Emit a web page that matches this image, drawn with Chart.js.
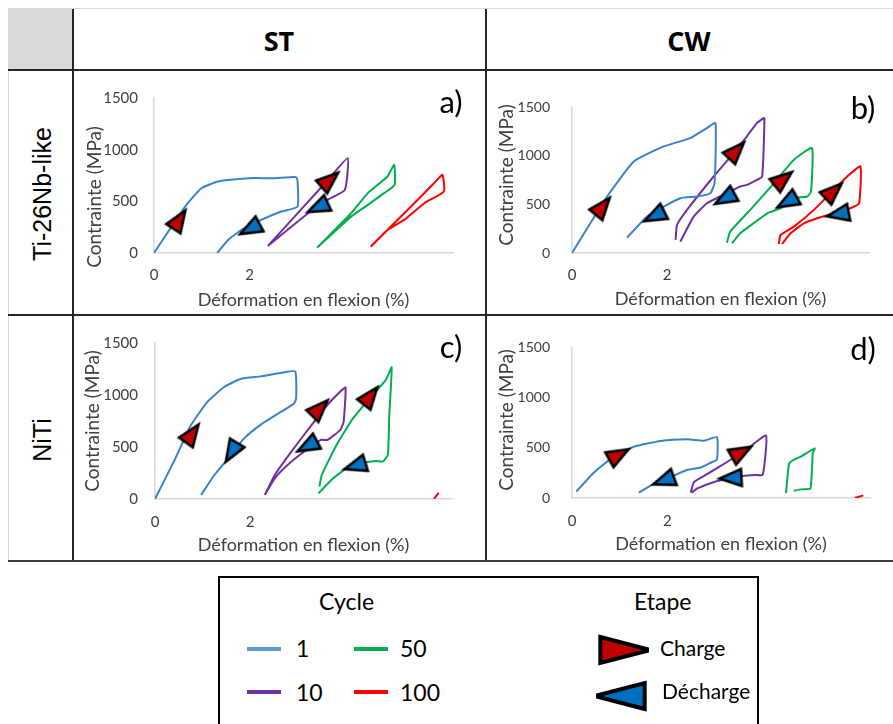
<!DOCTYPE html>
<html>
<head>
<meta charset="utf-8">
<script src="https://cdn.jsdelivr.net/npm/chart.js@4"></script>
<style>
  body { margin: 0; width: 893px; height: 724px; position: relative; overflow: hidden; background: #fff; font-family: Lato, sans-serif; color: #000; }
  .abs { position: absolute; }
  .line { position: absolute; background: #262626; }
  .head { position: absolute; font-family: "Open Sans", sans-serif; font-weight: 700; font-size: 27px; transform: translate(-50%, -50%); }
  .rowlab { position: absolute; font-family: "Liberation Sans", Arial, sans-serif; font-size: 25px; transform: translate(-50%, -50%) rotate(-90deg); white-space: nowrap; }
  .letter { position: absolute; font-family: Lato, sans-serif; font-size: 31px; transform: translate(-50%, -50%); }
  .lg { position: absolute; font-family: Lato, sans-serif; font-size: 23px; transform: translateY(-50%); white-space: nowrap; }
  .swatch { position: absolute; width: 34px; height: 4px; }
</style>
</head>
<body>
<!-- table frame -->
<div class="line" style="left:8px;top:8px;width:885px;height:1px;background:#d9d9d9"></div>
<div class="line" style="left:8px;top:8px;width:1px;height:554px;background:#d9d9d9"></div>
<div class="abs" style="left:9px;top:9px;width:63px;height:60px;background:#d9d9d9"></div>
<div class="line" style="left:72px;top:9px;width:2px;height:553px"></div>
<div class="line" style="left:485px;top:9px;width:2px;height:553px"></div>
<div class="line" style="left:8px;top:69px;width:885px;height:2px"></div>
<div class="line" style="left:8px;top:314px;width:885px;height:2px"></div>
<div class="line" style="left:8px;top:560px;width:885px;height:2px;background:#3a3a3a"></div>

<div class="head" style="left:279px;top:40px">ST</div>
<div class="head" style="left:689px;top:40px">CW</div>
<div class="rowlab" style="left:42px;top:194px">Ti-26Nb-like</div>
<div class="rowlab" style="left:42px;top:440px">NiTi</div>

<div class="abs" style="left:76px;top:72px"><canvas id="chartA" width="408" height="241"></canvas></div>
<div class="abs" style="left:488px;top:72px"><canvas id="chartB" width="404" height="241"></canvas></div>
<div class="abs" style="left:76px;top:317px"><canvas id="chartC" width="408" height="242"></canvas></div>
<div class="abs" style="left:488px;top:317px"><canvas id="chartD" width="404" height="242"></canvas></div>

<div class="letter" style="left:451px;top:101px">a)</div>
<div class="letter" style="left:863px;top:107px">b)</div>
<div class="letter" style="left:451px;top:346px">c)</div>
<div class="letter" style="left:863px;top:348px">d)</div>

<!-- legend -->
<div class="abs" style="left:218px;top:576px;width:537px;height:160px;border:2px solid #000"></div>
<div class="lg" style="left:319px;top:601px">Cycle</div>
<div class="lg" style="left:634px;top:601px">Etape</div>
<div class="swatch" style="left:247px;top:647px;background:#5b9bd5"></div>
<div class="lg" style="left:296px;top:648px">1</div>
<div class="swatch" style="left:354px;top:647px;background:#00b050"></div>
<div class="lg" style="left:400px;top:648px">50</div>
<div class="swatch" style="left:247px;top:690px;background:#7030a0"></div>
<div class="lg" style="left:296px;top:692px">10</div>
<div class="swatch" style="left:354px;top:690px;background:#ff0000"></div>
<div class="lg" style="left:400px;top:692px">100</div>
<canvas id="legCharge" class="abs" style="left:585px;top:622px" width="64" height="56"></canvas>
<div class="lg" style="left:660px;top:647px;font-size:21px">Charge</div>
<canvas id="legDecharge" class="abs" style="left:596px;top:668px" width="64" height="56"></canvas>
<div class="lg" style="left:662px;top:690px;font-size:21px">Décharge</div>

<script>
// cycle legend names and colours
const cycleNames = ['1', '10', '50', '100'];
const cycleColors = ['#3a82cc', '#7030a0', '#00b050', '#ff0000'];
const yTicks = [0, 500, 1000, 1500];
const xTickLabels = [0, 2];

// a) Ti-26Nb-like ST  [deformation %, contrainte MPa]
const a1 = [[0,0],[0.65,449],[0.99,627],[1.34,692],[1.97,724],[2.52,724],[2.97,734],[3.0,700],[3.0,449],[2.66,401],[2.24,320],[1.83,223],[1.55,126],[1.32,0]];
const a10 = [[2.38,68],[3.08,424],[3.63,704],[4.05,918],[3.99,611],[3.63,514],[3.22,385],[2.38,68]];
const a50 = [[3.41,52],[4.12,385],[4.47,579],[4.88,740],[5.02,853],[5.03,660],[4.81,579],[4.47,466],[4.12,352],[3.41,52]];
const a100 = [[4.53,61],[5.02,288],[5.58,546],[5.92,708],[6.03,757],[6.06,595],[5.65,482],[5.23,320],[4.88,223],[4.53,61]];
const aCharge = [[0.49,294],[3.62,685]];
const aChargeRot = [-57, -41];
const aDecharge = [[2.07,249],[3.49,456]];
const aDechargeRot = [152, 155];

// b) Ti-26Nb-like CW
const b1 = [[0,0],[0.74,580],[1.30,940],[1.93,1095],[2.49,1181],[2.84,1284],[3.02,1335],[3.00,717],[2.91,614],[2.63,580],[2.28,563],[1.93,477],[1.58,374],[1.16,158]];
const b10 = [[2.18,134],[2.21,288],[2.42,443],[2.98,786],[3.40,1026],[3.68,1198],[3.89,1335],[4.04,1387],[4.05,1370],[4.00,786],[3.82,734],[3.68,700],[3.54,683],[3.26,614],[2.84,511],[2.56,374],[2.28,117]];
const b50 = [[3.26,106],[3.33,220],[3.75,443],[4.25,717],[4.67,958],[5.05,1078],[5.03,632],[4.95,580],[4.67,563],[4.39,460],[4.11,408],[3.82,305],[3.54,202],[3.37,100]];
const b100 = [[4.35,93],[4.39,185],[4.67,271],[5.09,443],[5.51,649],[5.79,786],[6.07,889],[6.04,511],[5.86,460],[5.51,408],[5.16,357],[4.88,305],[4.60,202],[4.42,93]];
const bCharge = [[0.60,450],[3.41,1026],[4.39,738],[5.45,611]];
const bChargeRot = [-51, -47, -39, -43];
const bDecharge = [[1.80,395],[3.28,577],[4.59,542],[5.67,405]];
const bDechargeRot = [153, 151, 151, 169];

// c) NiTi ST
const c1 = [[0,0],[0.42,382],[0.76,713],[1.11,938],[1.46,1079],[1.81,1156],[2.22,1179],[2.64,1211],[2.95,1227],[2.97,967],[2.92,915],[2.64,835],[2.22,713],[1.88,585],[1.60,424],[1.25,231],[0.97,39]];
const c10 = [[2.31,39],[2.52,231],[2.87,456],[3.35,745],[3.63,906],[3.90,1034],[4.01,1072],[3.97,745],[3.90,665],[3.63,568],[3.49,568],[3.14,456],[2.79,327],[2.52,199],[2.31,39]];
const c50 = [[3.46,119],[3.51,231],[3.82,520],[4.17,777],[4.58,1002],[4.86,1146],[4.98,1265],[4.93,809],[4.90,424],[4.79,360],[4.65,366],[4.44,353],[4.03,295],[3.75,199],[3.44,55]];
const c100 = [[5.87,0],[5.97,60]];
const cCharge = [[0.74,601],[3.42,848],[4.49,964]];
const cChargeRot = [-55, -46, -52];
const cDecharge = [[1.65,479],[3.27,524],[4.28,328]];
const cDechargeRot = [121, 152, 163];

// d) NiTi CW
const d1 = [[0.09,64],[0.46,255],[0.88,415],[1.30,511],[1.86,568],[2.42,584],[2.77,571],[3.04,606],[3.04,383],[2.91,351],[2.70,303],[2.42,281],[2.14,223],[1.79,160],[1.40,54]];
const d10 = [[2.49,54],[2.56,160],[2.84,240],[3.26,361],[3.68,491],[4.07,622],[4.00,230],[3.82,230],[3.54,217],[3.26,191],[2.98,160],[2.63,96],[2.51,54]];
const d50 = [[4.49,48],[4.56,351],[4.81,415],[5.09,494],[5.05,447],[5.00,96],[4.81,86],[4.65,73]];
const d100 = [[5.93,0],[6.11,26]];
const dCharge = [[0.92,415],[3.49,440]];
const dChargeRot = [-29, -29];
const dDecharge = [[1.99,185],[3.40,201]];
const dDechargeRot = [160, 177];

function arrowImage(len, base, fill, lw) {
  const half = Math.ceil(len * 2 / 3 + lw * 2);
  const c = document.createElement('canvas');
  c.width = half * 2; c.height = half * 2;
  const g = c.getContext('2d');
  g.beginPath();
  g.moveTo(half - len / 3, half - base / 2);
  g.lineTo(half + len * 2 / 3, half);
  g.lineTo(half - len / 3, half + base / 2);
  g.closePath();
  g.fillStyle = fill; g.fill();
  g.lineWidth = lw; g.lineJoin = 'miter'; g.miterLimit = 4; g.strokeStyle = '#000'; g.stroke();
  return c;
}

const chargeImg = arrowImage(22, 17, '#c00000', 2.5);
const dechargeImg = arrowImage(22, 17, '#0070c0', 2.5);

function toPts(arr) { return arr.map(p => ({x: p[0], y: p[1]})); }

// y-axis title drawn where the original puts it
const yTitlePlugin = {
  id: 'yTitle',
  afterDraw(chart, args, opts) {
    const ctx = chart.ctx;
    ctx.save();
    ctx.translate(opts.x, opts.y);
    ctx.rotate(-Math.PI / 2);
    ctx.font = '19px Lato';
    ctx.fillStyle = '#404040';
    ctx.textAlign = 'center';
    ctx.textBaseline = 'middle';
    ctx.fillText('Contrainte (MPa)', 0, 0);
    ctx.restore();
  }
};

function makePanel(id, cycles, charge, chargeRot, decharge, dechargeRot, geo) {
  const datasets = [
    { label: 'Charge', data: toPts(charge), showLine: false, pointStyle: chargeImg, pointRotation: chargeRot },
    { label: 'Décharge', data: toPts(decharge), showLine: false, pointStyle: dechargeImg, pointRotation: dechargeRot }
  ];
  cycles.forEach((c, i) => {
    datasets.push({
      label: cycleNames[i], data: toPts(c), showLine: true, borderColor: cycleColors[i],
      borderWidth: 2, pointRadius: 0, tension: 0.15, fill: false
    });
  });
  new Chart(document.getElementById(id), {
    type: 'scatter',
    data: { datasets: datasets },
    plugins: [yTitlePlugin],
    options: {
      responsive: false,
      animation: false,
      events: [],
      layout: { padding: { top: geo.top, right: geo.right, left: 0, bottom: 0 } },
      plugins: {
        legend: { display: false },
        tooltip: { enabled: false },
        yTitle: { x: geo.tx, y: geo.ty }
      },
      scales: {
        x: {
          type: 'linear', min: 0, max: 6.25,
          grid: { display: false, drawTicks: false },
          border: { display: true, color: '#d9d9d9', width: 1.5 },
          ticks: {
            stepSize: 2, autoSkip: false, maxRotation: 0, padding: geo.xpad,
            color: '#404040', font: { family: 'Lato', size: 15 },
            callback: v => xTickLabels.includes(v) ? String(v) : ''
          },
          title: { display: true, text: 'Déformation en flexion (%)', color: '#404040', font: { family: 'Lato', size: 18 }, padding: { top: 0, bottom: geo.tpad } },
          afterFit: s => { s.height = geo.xh; }
        },
        y: {
          min: 0, max: 1500,
          grid: { display: false, drawTicks: false },
          border: { display: true, color: '#d9d9d9', width: 1.5 },
          afterBuildTicks: s => { s.ticks = yTicks.map(v => ({ value: v })); },
          ticks: { padding: geo.ypad, color: '#404040', font: { family: 'Lato', size: geo.yfont }, callback: v => String(v) },
          afterFit: s => { s.width = geo.yw; }
        }
      }
    }
  });
}

makePanel('chartA', [a1, a10, a50, a100], aCharge, aChargeRot, aDecharge, aDechargeRot,
  { top: 26, right: 31, yw: 78, xh: 60, ypad: 16, yfont: 15, xpad: 13, tpad: 2, tx: 19, ty: 125 });
makePanel('chartB', [b1, b10, b50, b100], bCharge, bChargeRot, bDecharge, bDechargeRot,
  { top: 35, right: 23, yw: 84, xh: 60, ypad: 22, yfont: 14, xpad: 13, tpad: 3, tx: 19, ty: 103 });
makePanel('chartC', [c1, c10, c50, c100], cCharge, cChargeRot, cDecharge, cDechargeRot,
  { top: 26, right: 32, yw: 79, xh: 60, ypad: 17, yfont: 15, xpad: 14, tpad: 3, tx: 17, ty: 104 });
makePanel('chartD', [d1, d10, d50, d100], dCharge, dChargeRot, dDecharge, dDechargeRot,
  { top: 25, right: 22, yw: 84, xh: 61, ypad: 22, yfont: 14, xpad: 14, tpad: 4, tx: 19, ty: 103 });

// legend arrows
function legendArrow(id, fill, angle) {
  const cv = document.getElementById(id);
  const g = cv.getContext('2d');
  const img = arrowImage(50, 26, fill, 4);
  g.translate(cv.width / 2, cv.height / 2);
  g.rotate(angle * Math.PI / 180);
  g.drawImage(img, -img.width / 2, -img.height / 2);
}
legendArrow('legCharge', '#c00000', 0);
legendArrow('legDecharge', '#0070c0', 180);
</script>
</body>
</html>
